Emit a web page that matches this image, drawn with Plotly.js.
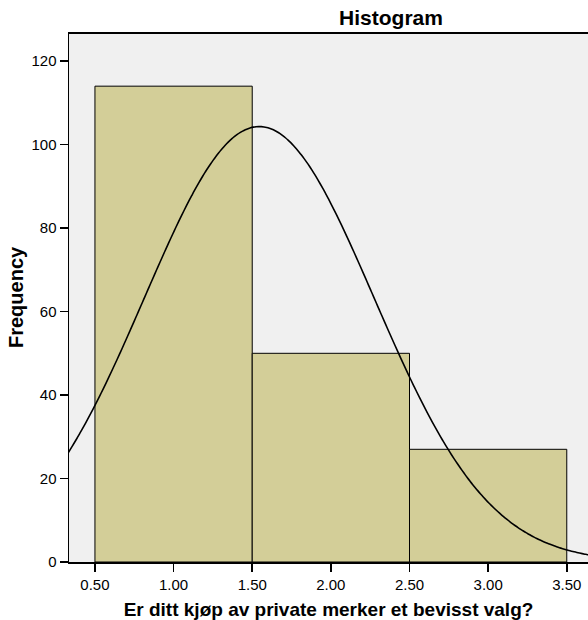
<!DOCTYPE html>
<html><head><meta charset="utf-8">
<script src="https://cdn.plot.ly/plotly-3.0.1.min.js"></script>
<style>html,body{margin:0;padding:0;background:#fff}#chart{width:588px;height:620px}</style>
</head><body><div id="chart"></div>
<script>
// Histogram bins (centers) and frequencies
const binCenters = [1, 2, 3];
const frequencies = [114, 50, 27];
const binWidth = 1;
const xTickVals = [0.5, 1.0, 1.5, 2.0, 2.5, 3.0, 3.5];
const xTickText = ["0.50", "1.00", "1.50", "2.00", "2.50", "3.00", "3.50"];
const yTickVals = [0, 20, 40, 60, 80, 100, 120];

// Normal curve fitted to the histogram data (SPSS "display normal curve")
const N = frequencies.reduce((a, b) => a + b, 0);
const mean = binCenters.reduce((s, x, i) => s + x * frequencies[i], 0) / N;
const variance = binCenters.reduce((s, x, i) => s + frequencies[i] * (x - mean) ** 2, 0) / (N - 1);
const sd = Math.sqrt(variance);
const curveX = [], curveY = [];
for (let k = 0; k <= 200; k++) {
  const x = 0.3 + k * (3.4 / 200);
  curveX.push(x);
  curveY.push(N * binWidth / (sd * Math.sqrt(2 * Math.PI)) * Math.exp(-0.5 * ((x - mean) / sd) ** 2));
}

const data = [
  {type: 'bar', x: binCenters, y: frequencies, width: binWidth,
   marker: {color: '#D3CE98', line: {color: '#000000', width: 1}},
   hoverinfo: 'none', showlegend: false},
  {type: 'scatter', mode: 'lines', x: curveX, y: curveY,
   line: {color: '#000000', width: 1.6, shape: 'spline'},
   hoverinfo: 'none', showlegend: false}
];

const layout = {
  width: 588, height: 620,
  margin: {l: 69, r: 0, t: 34, b: 58},
  paper_bgcolor: '#ffffff', plot_bgcolor: '#F0F0F0',
  font: {family: 'Liberation Sans, Arial, sans-serif', color: '#000000', size: 14},
  title: {text: 'Histogram', font: {size: 21, weight: 'bold'},
          xref: 'container', yref: 'container', x: 391/588, xanchor: 'center',
          y: 1 - 18/620, yanchor: 'middle'},
  bargap: 0,
  xaxis: {range: [0.335, 3.635], tickvals: xTickVals, ticktext: xTickText,
          ticks: 'outside', ticklen: 8, tickwidth: 1.5, tickcolor: '#000',
          showline: true, linecolor: '#000', linewidth: 2, mirror: true,
          showgrid: false, zeroline: false,
          tickfont: {size: 15},
          title: {text: 'Er ditt kjøp av private merker et bevisst valg?', font: {size: 19, weight: 'bold'}, standoff: 11}},
  yaxis: {range: [0, 126.5], tickvals: yTickVals,
          ticks: 'outside', ticklen: 8, tickwidth: 1.5, tickcolor: '#000',
          showline: true, linecolor: '#000', linewidth: 1.5,
          showgrid: false, zeroline: false,
          tickfont: {size: 15}},
  annotations: [{text: 'Frequency', textangle: -90, showarrow: false,
                 xref: 'paper', yref: 'paper', x: (16 - 69) / 519, y: (562 - 297) / 528,
                 xanchor: 'center', yanchor: 'middle',
                 font: {size: 20, weight: 'bold'}}]
};

Plotly.newPlot('chart', data, layout, {staticPlot: true, displayModeBar: false});
</script>
</body></html>
